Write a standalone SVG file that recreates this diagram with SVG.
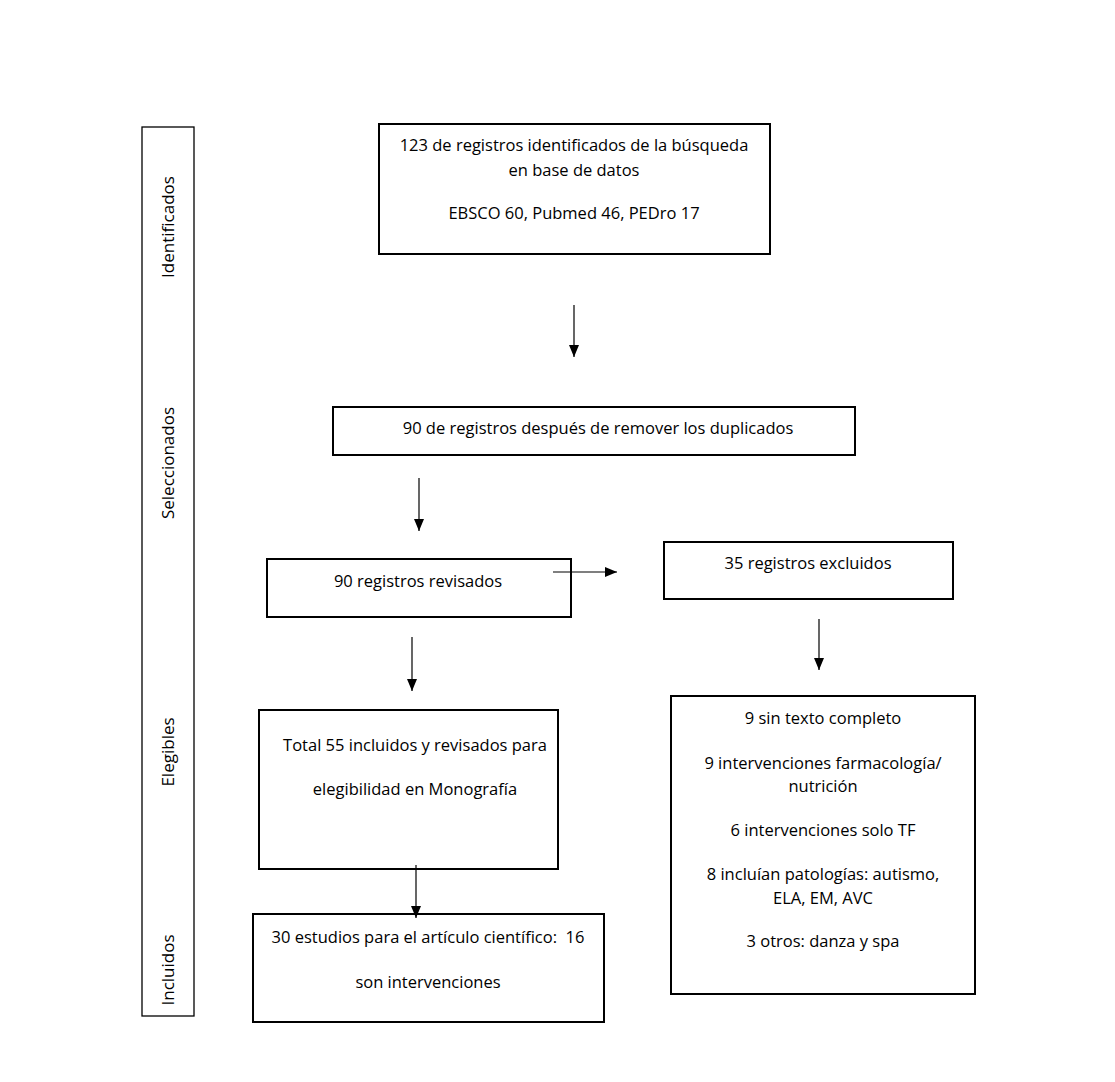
<svg xmlns="http://www.w3.org/2000/svg" width="1115" height="1082" viewBox="0 0 1115 1082">
<defs>
<style>
.box{fill:#fff;stroke:#000;stroke-width:2}
.side{fill:#fff;stroke:#000;stroke-width:1.3}
.t{font-family:"Open Sans","Liberation Sans",sans-serif;font-size:16.5px;fill:#000;text-anchor:middle}
.s{font-size:17px}
.ln{stroke:#000;stroke-width:1.2;fill:none}
</style>
<marker id="ah" viewBox="0 0 12 10" refX="12" refY="5" markerWidth="12" markerHeight="10" markerUnits="userSpaceOnUse" orient="auto">
<path d="M0,0 L12,5 L0,10 Z" fill="#000"/>
</marker>
</defs>
<rect width="1115" height="1082" fill="#fff"/>
<g id="sidebar">
<rect class="side" x="142" y="127" width="52" height="889"/>
<text class="t s" transform="translate(174,227) rotate(-90)">Identificados</text>
<text class="t s" transform="translate(174,463) rotate(-90)">Seleccionados</text>
<text class="t s" transform="translate(174,752) rotate(-90)">Elegibles</text>
<text class="t s" transform="translate(174,970) rotate(-90)">Incluidos</text>
</g>
<g id="n1">
<rect class="box" x="379" y="124" width="391" height="130"/>
<text class="t" x="574" y="151">123 de registros identificados de la búsqueda</text>
<text class="t" x="574" y="176">en base de datos</text>
<text class="t" x="574" y="219">EBSCO 60, Pubmed 46, PEDro 17</text>
</g>
<g id="n2">
<rect class="box" x="333" y="407" width="522" height="48"/>
<text class="t" x="598" y="434">90 de registros después de remover los duplicados</text>
</g>
<g id="n3">
<rect class="box" x="267" y="559" width="304" height="58"/>
<text class="t" x="418" y="587">90 registros revisados</text>
</g>
<g id="n4">
<rect class="box" x="664" y="542" width="289" height="57"/>
<text class="t" x="808" y="569">35 registros excluidos</text>
</g>
<g id="n5">
<rect class="box" x="259" y="710" width="299" height="159"/>
<text class="t" x="415" y="751">Total 55 incluidos y revisados para</text>
<text class="t" x="415" y="795">elegibilidad en Monografía</text>
</g>
<g id="n6">
<rect class="box" x="253" y="914" width="351" height="108"/>
<text class="t" x="428" y="943">30 estudios para el artículo científico:&#160; 16</text>
<text class="t" x="428" y="988">son intervenciones</text>
</g>
<g id="n7">
<rect class="box" x="671" y="696" width="304" height="298"/>
<text class="t" x="823" y="724">9 sin texto completo</text>
<text class="t" x="823" y="769">9 intervenciones farmacología/</text>
<text class="t" x="823" y="792">nutrición</text>
<text class="t" x="823" y="836">6 intervenciones solo TF</text>
<text class="t" x="823" y="880">8 incluían patologías: autismo,</text>
<text class="t" x="823" y="904">ELA, EM, AVC</text>
<text class="t" x="823" y="947">3 otros: danza y spa</text>
</g>
<g id="connectors">
<line class="ln" x1="574" y1="305" x2="574" y2="357" marker-end="url(#ah)"/>
<line class="ln" x1="419" y1="478" x2="419" y2="531" marker-end="url(#ah)"/>
<line class="ln" x1="553" y1="572" x2="617" y2="572" marker-end="url(#ah)"/>
<line class="ln" x1="819" y1="619" x2="819" y2="670" marker-end="url(#ah)"/>
<line class="ln" x1="412" y1="637" x2="412" y2="691" marker-end="url(#ah)"/>
<line class="ln" x1="416" y1="865" x2="416" y2="918" marker-end="url(#ah)"/>
</g>
</svg>
